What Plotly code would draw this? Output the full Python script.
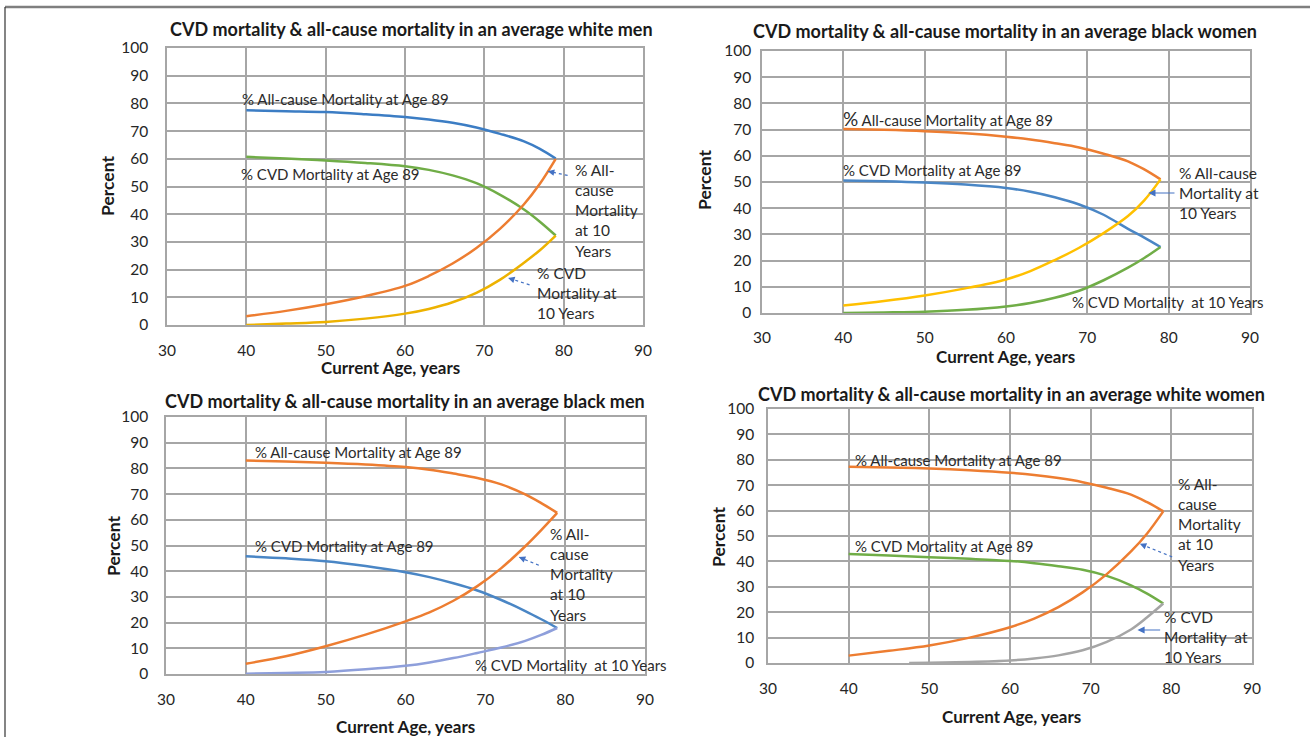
import plotly.graph_objects as go

W, H = 1310, 737

# ---------------- data ----------------
ages = [40, 45, 50, 55, 60, 63, 66, 69, 72, 75, 77, 79]

# Panel 1: average white men
wm_all89 = [77.5, 77.2, 76.9, 76.1, 75.1, 74.2, 73.0, 71.3, 69.0, 66.3, 63.6, 60.1]
wm_cvd89 = [60.7, 60.1, 59.4, 58.5, 57.3, 56.0, 54.0, 51.2, 47.0, 41.7, 37.3, 32.3]
wm_all10 = [3.2, 5.1, 7.5, 10.4, 14.1, 17.7, 22.2, 27.8, 34.8, 43.6, 51.0, 60.0]
wm_cvd10 = [0.0, 0.5, 1.1, 2.3, 4.1, 5.8, 8.2, 11.6, 16.4, 22.5, 27.0, 32.3]

# Panel 2: average black women
bw_all89 = [70.2, 69.9, 69.4, 68.6, 67.3, 66.2, 64.8, 63.2, 60.8, 57.9, 54.8, 51.0]
bw_cvd89 = [50.6, 50.3, 49.8, 49.0, 47.7, 46.3, 44.2, 41.4, 37.5, 32.1, 28.8, 25.2]
bw_all10 = [2.9, 4.6, 6.7, 9.4, 12.8, 16.0, 20.2, 24.9, 30.5, 37.0, 43.0, 51.0]
bw_cvd10 = [0.0, 0.2, 0.5, 1.2, 2.5, 3.8, 5.8, 8.5, 12.5, 17.3, 21.0, 25.2]

# Panel 3: average black men
bm_all89 = [83.1, 82.7, 82.2, 81.5, 80.5, 79.5, 78.0, 76.3, 73.8, 69.9, 66.5, 62.7]
bm_cvd89 = [45.8, 45.0, 43.9, 42.0, 39.6, 37.7, 35.3, 32.5, 28.8, 24.5, 21.3, 17.9]
bm_all10 = [4.0, 6.9, 10.8, 15.3, 20.5, 24.0, 28.5, 34.2, 41.2, 49.7, 56.0, 62.7]
bm_cvd10 = [0.1, 0.4, 0.8, 1.8, 3.2, 4.5, 6.2, 8.2, 10.3, 12.9, 15.2, 17.9]

# Panel 4: average white women
ww_all89 = [77.3, 77.0, 76.6, 75.9, 74.9, 74.0, 72.8, 71.2, 69.0, 66.3, 63.3, 59.7]
ww_cvd89 = [42.9, 42.3, 41.6, 41.0, 40.2, 39.3, 38.1, 36.7, 34.3, 30.6, 27.3, 23.4]
ww_all10 = [2.9, 4.8, 6.9, 10.0, 14.1, 17.5, 22.0, 27.8, 35.0, 43.9, 51.0, 59.7]
ww_cvd10_ages = [47.5, 50, 55, 60, 63, 66, 69, 72, 75, 77, 79]
ww_cvd10 = [0.0, 0.1, 0.4, 1.0, 1.8, 3.0, 5.0, 8.3, 13.2, 18.0, 23.4]

x_ticks = [30, 40, 50, 60, 70, 80, 90]
y_ticks = [0, 10, 20, 30, 40, 50, 60, 70, 80, 90, 100]

titles = [
    "CVD mortality & all-cause mortality in an average white men",
    "CVD mortality & all-cause mortality in an average black women",
    "CVD mortality & all-cause mortality in an average black men",
    "CVD mortality & all-cause mortality in an average white women",
]

BLUE = "#3C7DC4"
ORANGE = "#ED7D31"
GREEN = "#70AD47"
GOLD = "#EDB200"
GOLD2 = "#FFC000"
LAV = "#8E9FDB"
GRAY = "#A5A5A5"
BLUE2 = "#4A86C5"

# pixel geometry of each panel: (x_left, x_right, y_top, y_bottom)
panels = [
    (167, 643, 48, 325),
    (762, 1250, 51, 313),
    (166, 645, 417, 674),
    (768, 1252, 409, 663),
]
ylab_len = [14, 6, 13, 9]
xlab_len = [11, 10, 11, 11]

fig = go.Figure()

series = [
    [(ages, wm_all89, BLUE), (ages, wm_cvd89, GREEN), (ages, wm_all10, ORANGE), (ages, wm_cvd10, GOLD)],
    [(ages, bw_all89, ORANGE), (ages, bw_cvd89, BLUE2), (ages, bw_all10, GOLD2), (ages, bw_cvd10, GREEN)],
    [(ages, bm_all89, ORANGE), (ages, bm_cvd89, BLUE2), (ages, bm_all10, ORANGE), (ages, bm_cvd10, LAV)],
    [(ages, ww_all89, ORANGE), (ages, ww_cvd89, GREEN), (ages, ww_all10, ORANGE), (ww_cvd10_ages, ww_cvd10, GRAY)],
]

TICKFONT = dict(family="Lato", size=15.5, color="#262626")
layout = dict(
    width=W, height=H, autosize=False,
    margin=dict(l=0, r=0, t=0, b=0),
    paper_bgcolor="white", plot_bgcolor="white",
    showlegend=False,
)

annotations = []
shapes = []

for i, (x0, x1, y0, y1) in enumerate(panels):
    k = "" if i == 0 else str(i + 1)
    xa, ya = "xaxis" + k, "yaxis" + k
    layout[xa] = dict(
        domain=[x0 / W, x1 / W], range=[30, 90], anchor="y" + k,
        tickvals=x_ticks, ticks="outside", ticklen=xlab_len[i], tickcolor="rgba(0,0,0,0)",
        showgrid=True, gridcolor="#A6A6A6", gridwidth=1.5,
        showline=True, linecolor="#A6A6A6", linewidth=1.5, mirror=True,
        zeroline=False, tickfont=TICKFONT, automargin=False, fixedrange=True,
    )
    layout[ya] = dict(
        domain=[1 - y1 / H, 1 - y0 / H], range=[0, 100], anchor="x" + k,
        tickvals=y_ticks, ticks="outside", ticklen=ylab_len[i], tickcolor="rgba(0,0,0,0)",
        showgrid=True, gridcolor="#A6A6A6", gridwidth=1.5,
        showline=True, linecolor="#A6A6A6", linewidth=1.5, mirror=True,
        zeroline=False, tickfont=TICKFONT, automargin=False, fixedrange=True,
    )
    for (xs, ys, col) in series[i]:
        fig.add_trace(go.Scatter(
            x=xs, y=ys, mode="lines", line=dict(color=col, width=2.5, shape="spline", smoothing=1.0),
            xaxis="x" + k, yaxis="y" + k, hoverinfo="skip",
        ))

# titles and axis titles (paper pixel positions)
title_pos = [(411, 29), (1005, 31), (405, 401), (1011, 394)]
xtitle_pos = [(391, 368), (1005, 356), (405, 726), (1011, 716)]
ytitle_pos = [(108, 186), (704, 180), (113, 546), (718, 537)]
for i in range(4):
    tx, ty = title_pos[i]
    annotations.append(dict(text="<b>" + titles[i] + "</b>", x=tx / W, y=1 - ty / H, xref="paper", yref="paper",
                            showarrow=False, xanchor="center", yanchor="middle",
                            font=dict(family="Lato", size=18, color="#1a1a1a")))
    tx, ty = xtitle_pos[i]
    annotations.append(dict(text="<b>Current Age, years</b>", x=tx / W, y=1 - ty / H, xref="paper", yref="paper",
                            showarrow=False, xanchor="center", yanchor="middle",
                            font=dict(family="Lato", size=17, color="#1a1a1a")))
    tx, ty = ytitle_pos[i]
    annotations.append(dict(text="<b>Percent</b>", x=tx / W, y=1 - ty / H, xref="paper", yref="paper",
                            showarrow=False, xanchor="center", yanchor="middle", textangle=-90,
                            font=dict(family="Lato", size=17.5, color="#1a1a1a")))

LBL = dict(family="Lato", size=15, color="#2b2b2b")
LBL2 = dict(family="Lato", size=15.5, color="#2b2b2b")

def label(k, x, y, text, font=LBL):
    annotations.append(dict(text=text, x=x, y=y, xref="x" + k, yref="y" + k, showarrow=False,
                            xanchor="left", yanchor="middle", align="left", font=font))

def arrow(k, hx, hy, tx, ty, dotted=True):
    if dotted:
        shapes.append(dict(type="line", xref="x" + k, yref="y" + k, x0=tx, y0=ty, x1=hx, y1=hy,
                           line=dict(color="#4472C4", width=1.2, dash="dot")))
        annotations.append(dict(x=hx, y=hy, ax=hx + (tx - hx) * 0.2, ay=hy + (ty - hy) * 0.2,
                                xref="x" + k, yref="y" + k, axref="x" + k, ayref="y" + k,
                                text="", showarrow=True, arrowhead=2, arrowsize=1.3, arrowwidth=1,
                                arrowcolor="#4472C4"))
    else:
        annotations.append(dict(x=hx, y=hy, ax=tx, ay=ty,
                                xref="x" + k, yref="y" + k, axref="x" + k, ayref="y" + k,
                                text="", showarrow=True, arrowhead=2, arrowsize=1.3, arrowwidth=1.1,
                                arrowcolor="#4472C4"))

# Panel 1
label("", 39.2, 81.6, "% All-cause Mortality at Age 89")
label("", 39.1, 54.5, "% CVD Mortality at Age 89")
label("", 81.2, 41.3, "% All-<br>cause<br>Mortality<br>at 10<br>Years", LBL2)
label("", 76.4, 11.6, "% CVD<br>Mortality at<br>10 Years", LBL2)
arrow("", 78.0, 55.5, 80.5, 54.0)
arrow("", 73.0, 17.0, 75.7, 14.5)

# Panel 2
label("2", 39.7, 74.4, "<span style='font-size:19px'>%</span> All-cause Mortality at Age 89")
label("2", 39.7, 54.6, "% CVD Mortality at Age 89")
label("2", 81.0, 45.8, "% All-cause<br>Mortality at<br>10 Years", LBL2)
label("2", 67.9, 4.2, "% CVD Mortality  at 10 Years")
arrow("2", 77.5, 45.8, 80.9, 45.8, dotted=False)

# Panel 3
label("3", 40.9, 86.4, "% All-cause Mortality at Age 89")
label("3", 40.9, 49.8, "% CVD Mortality at Age 89")
label("3", 77.9, 38.9, "% All-<br>cause<br>Mortality<br>at 10<br>Years", LBL2)
label("3", 68.4, 3.5, "% CVD Mortality  at 10 Years")
arrow("3", 74.2, 45.5, 76.7, 42.3)

# Panel 4
label("4", 40.5, 79.9, "% All-cause Mortality at Age 89")
label("4", 40.5, 46.1, "% CVD Mortality at Age 89")
label("4", 80.6, 54.7, "% All-<br>cause<br>Mortality<br>at 10<br>Years", LBL2)
label("4", 78.8, 10.2, "% CVD<br>Mortality  at<br>10 Years", LBL2)
arrow("4", 76.1, 46.9, 80.1, 41.8)
arrow("4", 75.8, 13.0, 78.8, 13.0, dotted=False)

# outer frame lines
shapes.append(dict(type="line", xref="paper", yref="paper", x0=5 / W, x1=1, y0=1 - 7 / H, y1=1 - 7 / H,
                   line=dict(color="#7F7F7F", width=2.5)))
shapes.append(dict(type="line", xref="paper", yref="paper", x0=5 / W, x1=5 / W, y0=0, y1=1 - 7 / H,
                   line=dict(color="#333333", width=1.2)))

layout["annotations"] = annotations
layout["shapes"] = shapes
fig.update_layout(**layout)
fig.write_html("out.html",
               config={"displayModeBar": False},
               post_script="document.body.style.margin='0';document.body.style.padding='0';"
                           "document.body.style.overflow='hidden';")
